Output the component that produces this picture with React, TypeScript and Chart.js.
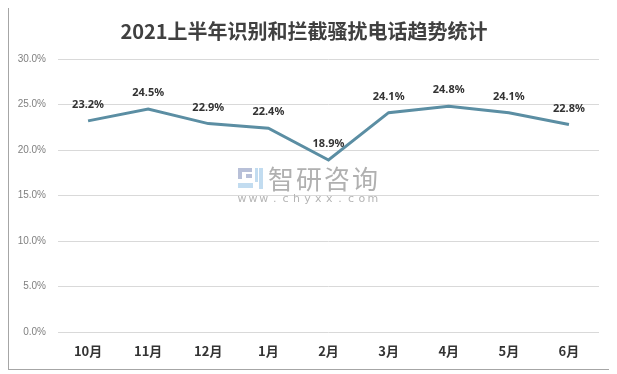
import React, { useEffect, useRef } from "react";
import { Chart, registerables } from "chart.js";

Chart.register(...registerables);

const TITLE = "2021上半年识别和拦截骚扰电话趋势统计";
const categories = ["10月", "11月", "12月", "1月", "2月", "3月", "4月", "5月", "6月"];
const rates = [23.2, 24.5, 22.9, 22.4, 18.9, 24.1, 24.8, 24.1, 22.8];
const yTicks = [0, 5, 10, 15, 20, 25, 30];

const LINE_COLOR = "#5b8ea3";

const dataLabelPlugin = {
  id: "dataLabels",
  afterDatasetsDraw(chart: any) {
    const ctx = chart.ctx;
    const meta = chart.getDatasetMeta(0);
    const data = chart.data.datasets[0].data as number[];
    ctx.save();
    ctx.font = "bold 11px 'Noto Sans', sans-serif";
    ctx.fillStyle = "#333333";
    ctx.textAlign = "center";
    ctx.textBaseline = "middle";
    meta.data.forEach((el: any, i: number) => {
      ctx.fillText(data[i].toFixed(1) + "%", el.x, el.y - 16);
    });
    ctx.restore();
  },
};

const watermarkPlugin = {
  id: "watermark",
  beforeDatasetsDraw(chart: any) {
    const ctx = chart.ctx;
    ctx.save();
    // logo
    ctx.fillStyle = "#b8c0d8";
    ctx.fillRect(229, 160, 14, 4);
    ctx.fillRect(229, 160, 4, 11);
    ctx.fillRect(237, 166, 6, 4);
    ctx.fillStyle = "#c2dcf0";
    ctx.fillRect(229, 175, 15, 5);
    ctx.fillRect(246, 160, 3, 14);
    ctx.fillRect(250, 160, 4, 21);
    // text
    ctx.fillStyle = "#b0b0b0";
    ctx.font = "26px 'Noto Sans CJK SC', sans-serif";
    ctx.textBaseline = "middle";
    ctx.textAlign = "center";
    const cjk = "智研咨询";
    for (let i = 0; i < cjk.length; i++) {
      ctx.fillText(cjk[i], 272 + i * 28, 171);
    }
    ctx.font = "11px 'DejaVu Sans', sans-serif";
    ctx.fillStyle = "#b5b5b5";
    const url = "www.chyxx.com";
    for (let i = 0; i < url.length; i++) {
      ctx.fillText(url[i], 233 + i * 10.9, 191);
    }
    ctx.restore();
  },
};

export default function App() {
  const ref = useRef<HTMLCanvasElement | null>(null);
  useEffect(() => {
    if (!ref.current) return;
    const chart = new Chart(ref.current, {
      type: "line",
      data: {
        labels: categories,
        datasets: [
          {
            data: rates,
            borderColor: LINE_COLOR,
            backgroundColor: LINE_COLOR,
            borderWidth: 3,
            pointRadius: 0,
            tension: 0,
            fill: false,
          },
        ],
      },
      options: {
        animation: false,
        responsive: false,
        maintainAspectRatio: false,
        layout: { padding: { top: 0, right: 14, bottom: 0, left: 0 } },
        plugins: {
          legend: { display: false },
          tooltip: { enabled: false },
          title: {
            display: true,
            text: TITLE,
            color: "#404040",
            font: { size: 20, weight: "bold", family: "'Noto Sans CJK SC', sans-serif", lineHeight: 1.2 },
            padding: { top: 11, bottom: 16 },
          },
        },
        scales: {
          x: {
            offset: true,
            grid: { display: false, drawTicks: false },
            border: { display: false },
            ticks: {
              color: "#333333",
              font: { size: 13, weight: "bold", family: "'Noto Sans CJK SC', sans-serif" },
              padding: 11,
              maxRotation: 0,
              autoSkip: false,
            },
            afterFit(scale: any) {
              scale.height = 37;
            },
          },
          y: {
            min: 0,
            max: 30,
            afterBuildTicks(scale: any) {
              scale.ticks = yTicks.map((v) => ({ value: v }));
            },
            grid: { color: "#d9d9d9", lineWidth: 1, drawTicks: false },
            border: { display: false },
            ticks: {
              color: "#7f7f7f",
              font: { size: 10, family: "'Liberation Sans', sans-serif" },
              padding: 12,
              callback: (v: any) => Number(v).toFixed(1) + "%",
            },
            afterFit(scale: any) {
              scale.width = 49;
            },
          },
        },
      },
      plugins: [watermarkPlugin, dataLabelPlugin],
    });
    return () => chart.destroy();
  }, []);

  return (
    <div
      style={{
        width: 604,
        height: 361,
        border: "1px solid #a6a6a6",
        marginTop: -1,
        background: "#ffffff",
      }}
    >
      <canvas ref={ref} width={604} height={361} style={{ display: "block" }} />
    </div>
  );
}
